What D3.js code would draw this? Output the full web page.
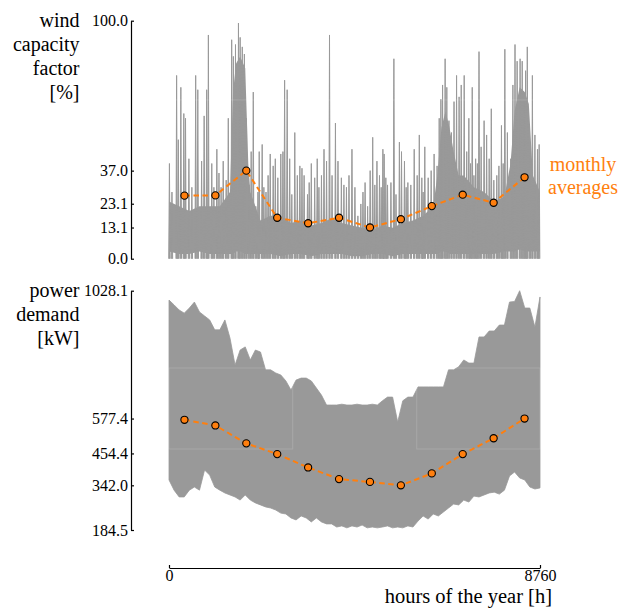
<!DOCTYPE html>
<html><head><meta charset="utf-8">
<script src="https://cdn.jsdelivr.net/npm/d3@7"></script>
<style>
body{margin:0;background:#fff;}
</style></head><body>
<svg id="c" width="618" height="608"></svg>
<script>
// ---------- data ----------
const monthHours = [365,1095,1825,2555,3285,4015,4745,5475,6205,6935,7665,8395];
const windMonthly = [26.5,26.6,37.0,17.2,14.9,17.2,13.1,16.6,22.1,26.9,23.5,34.2];
const demandMonthly = [573,553,490,452,405,364,354,342.0,384,452,508,577.4];
const windTicks = [0.0,13.1,23.1,37.0,100.0];
const demandTicks = [184.5,342.0,454.4,577.4,1028.1];
const hourTicks = [0,8760];

// dense band of hourly wind capacity factor
const windBandDay = [0,10,20,30,40,50,60,63,66,70,75,78,80,90,100,110,120,130,140,150,160,170,180,190,200,210,220,230,240,250,260,264,268,272,276,280,285,290,300,310,320,330,336,340,345,350,354,358,365];
const windBandTop = [24,22,20,22,22,22,28,70,82,85,80,40,28,16,18,18,15,16,14,15,17,15,14,13,12,14,13,15,16,18,22,35,55,62,55,45,35,35,30,28,24,26,40,62,72,70,65,35,28];
const windBandBottom = [3,2,2,3,2,2,2,2,3,3,2,2,2,2,2,1,2,2,1,2,2,2,1,1,2,2,1,2,2,2,2,2,3,3,2,2,2,2,2,2,2,3,3,3,4,3,3,3,3];
// hourly wind spikes (hour of year, capacity factor %)
const windPeakHour = [10,70,180,220,280,350,390,470,540,630,680,770,830,890,930,1010,1060,1130,1180,1230,1280,1350,1400,1480,1520,1570,1640,1680,1730,1780,1830,1890,1940,1990,2050,2100,
 2130,2200,2240,2290,2340,2390,2460,2510,2570,2640,2690,2730,2790,2850,2900,2970,3030,3090,3140,3190,3270,3310,3360,3440,3500,3540,3600,3660,3720,3790,3850,3930,3990,4070,4130,4190,4250,4320,
 4390,4460,4530,4580,4630,4690,4750,4810,4860,4910,4970,5010,5050,5080,5120,5160,5240,5310,5360,5440,5490,5560,5600,5640,5710,5790,5860,5910,5970,6000,6040,6120,6190,6260,6330,6380,6420,6460,6520,
 6560,6610,6670,6730,6790,6850,6900,6970,7030,7080,7120,7160,7200,7240,7280,7320,7370,7440,7500,7560,7610,7670,7740,7790,7850,7890,7930,7990,8070,8120,8170,8220,8290,8340,8380,8420,8460,8520,8580,8640,8700,8740];
const windPeakValue = [40,28,77,50,72,61,59,42,30,77,71,41,60,71,94,40,30,46,36,30,41,33,59,92,85,90,99,93,89,86,59,31,45,70,22,28,
 45,48,30,28,35,44,39,42,34,44,45,75,71,42,27,53,35,39,38,35,27,32,40,34,42,30,35,46,41,94,35,57,41,34,31,30,35,46,
 30,18,23,28,32,22,37,51,31,41,35,30,46,44,34,31,32,84,27,49,45,41,30,32,31,46,35,52,34,28,47,34,37,44,39,59,67,73,84,
 72,58,53,66,77,68,73,77,45,59,40,72,35,42,40,87,47,58,52,42,63,33,35,39,56,40,88,53,42,73,90,83,84,83,66,79,89,46,77,52,46,48];

// hourly power demand envelope (sampled every 5 days)
const demandDay = [0,5,10,15,20,25,30,35,40,45,50,55,60,65,70,75,80,85,90,95,100,105,110,115,120,125,130,135,140,145,150,155,160,165,170,175,180,185,190,195,200,205,210,215,220,225,230,235,240,245,250,255,260,265,270,275,280,285,290,295,300,305,310,315,320,325,330,335,340,345,350,355,360,365];
const demandUpper = [995,978,960,949,967,988,953,939,925,890,890,925,861,766,819,830,784,819,812,749,749,738,731,710,678,713,720,720,710,685,660,625,625,625,628,625,625,628,625,625,628,625,640,653,653,565,640,653,653,689,689,689,689,689,689,749,749,760,784,773,773,865,865,886,886,907,907,988,990,1028,967,967,900,1006];
const demandLower = [361,325,301,301,325,336,325,396,378,336,325,315,308,301,290,308,290,280,273,266,262,255,244,241,227,220,234,227,213,227,213,206,206,195,199,192,199,195,202,192,195,192,195,199,192,195,192,199,195,216,234,223,241,234,248,262,276,273,290,283,304,301,308,315,318,311,325,375,389,368,361,336,329,333];

// ---------- drawing ----------
const FONT = '"Liberation Serif","Times New Roman",Times,serif';
const svg = d3.select("#c");
const GRAY = "#999999", ORANGE = "#ff7f0e";
const x = d3.scaleLinear().domain([0,8760]).range([169,540]);
const yW = d3.scaleLinear().domain([0,100]).range([258.7,20.7]);
const yD = d3.scaleLinear().domain([184.5,1028.1]).range([530,290.7]);
const AX = 131;

// wind band
svg.append("path")
  .datum(windBandDay.map((d,i)=>({h:d*24,lo:windBandBottom[i],hi:windBandTop[i]})))
  .attr("fill",GRAY)
  .attr("d", d3.area().x(d=>x(d.h)).y0(d=>yW(d.lo)).y1(d=>yW(d.hi)));
// wind spikes
const sp = d3.path();
windPeakHour.forEach((h,i)=>{
  sp.moveTo(x(h-16), yW(0));
  sp.lineTo(x(h), yW(windPeakValue[i]));
  sp.lineTo(x(h+16), yW(0));
});
svg.append("path").attr("d",sp.toString()).attr("fill",GRAY)
  .attr("stroke",GRAY).attr("stroke-width",1).attr("stroke-linejoin","round");

// demand envelope
svg.append("path")
  .datum(demandDay.map((d,i)=>({h:d*24,lo:demandLower[i],hi:demandUpper[i]})))
  .attr("fill",GRAY).attr("stroke",GRAY).attr("stroke-width",0.8)
  .attr("d", d3.area().x(d=>x(d.h)).y0(d=>yD(d.lo)).y1(d=>yD(d.hi)));

// faint overlay lines seen in the reference
svg.append("line").attr("x1",x(0)).attr("x2",x(8760)).attr("y1",yW(66.7)).attr("y2",yW(66.7))
  .attr("stroke","#fff").attr("stroke-opacity",0.15).attr("stroke-width",1);
[[0,2921],[5850,8760]].forEach(([a,b])=>{
  svg.append("rect").attr("x",x(a)).attr("width",x(b)-x(a))
    .attr("y",yD(755.6)).attr("height",yD(470)-yD(755.6))
    .attr("fill","none").attr("stroke","#fff").attr("stroke-opacity",0.15).attr("stroke-width",1);
});

// monthly averages
function monthly(vals, yS){
  const pts = monthHours.map((h,i)=>[x(h), yS(vals[i])]);
  svg.append("path").attr("d", d3.line()(pts)).attr("fill","none")
    .attr("stroke",ORANGE).attr("stroke-width",2).attr("stroke-dasharray","5.5,3.5");
  svg.selectAll(null).data(pts).enter().append("circle")
    .attr("cx",d=>d[0]).attr("cy",d=>d[1]).attr("r",3.6)
    .attr("fill",ORANGE).attr("stroke","#000").attr("stroke-width",1.1);
}
monthly(windMonthly, yW);
monthly(demandMonthly, yD);

// axes
function styleAxis(g){
  g.attr("font-family",FONT);
  g.select(".domain").attr("stroke","#000").attr("stroke-width",1.2);
  g.selectAll(".tick line").attr("stroke","#000").attr("stroke-width",1.2);
  g.selectAll("text").attr("font-size",16).attr("fill","#000").style("font-family",FONT);
}
function yAxis(scale, ticks){
  const g = svg.append("g").attr("transform",`translate(${AX},0)`)
    .call(d3.axisLeft(scale).tickValues(ticks).tickFormat(d3.format(".1f"))
      .tickSizeInner(-3).tickSizeOuter(0).tickPadding(3));
  styleAxis(g);
}
yAxis(yW, windTicks);
yAxis(yD, demandTicks);

const gx = svg.append("g").attr("transform","translate(0,568)")
  .call(d3.axisBottom(x).tickValues(hourTicks).tickFormat(d3.format("d"))
    .tickSizeInner(-3).tickSizeOuter(0).tickPadding(2));
styleAxis(gx);

// labels
function multi(lines, xp, y0, dy, anchor, color){
  lines.forEach((t,i)=>svg.append("text").attr("x",xp).attr("y",y0+i*dy)
    .attr("text-anchor",anchor).attr("font-size",20)
    .style("font-family",FONT).style("fill",color||"#000").text(t));
}
multi(["wind","capacity","factor","[%]"], 79.5, 27, 24, "end");
multi(["power","demand","[kW]"], 79.5, 296.5, 24, "end");
multi(["monthly","averages"], 583, 170.5, 23, "middle", ORANGE);
svg.append("text").attr("x",552).attr("y",602.5).attr("text-anchor","end")
  .attr("font-size",20.5).style("font-family",FONT).style("fill","#000").text("hours of the year [h]");
</script>
</body></html>
